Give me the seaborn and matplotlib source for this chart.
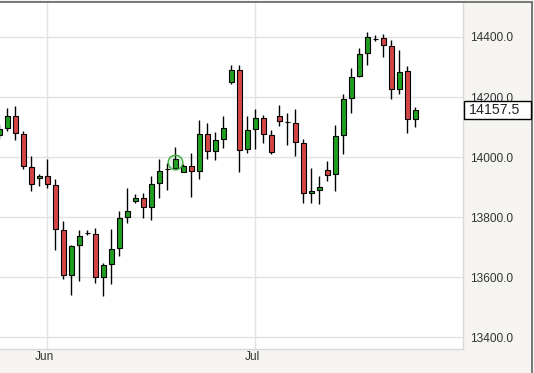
import numpy as np
import pandas as pd
import matplotlib
matplotlib.use("Agg")
import matplotlib.pyplot as plt
from matplotlib.patches import Rectangle
from matplotlib.lines import Line2D
import seaborn as sns

# Daily candles (one per trading session)
open_ = [14074, 14097, 14137, 14077, 13967, 13930, 13938, 13907, 13758, 13606,
         13706, 13747, 13744, 13602, 13643, 13697, 13800, 13853, 13863, 13833,
         13913, 13960, 13963, 13950, 13971, 13952, 14077, 14019, 14060, 14250,
         14290, 14027, 14093, 14130, 14073, 14137, 14117, 14113, 14047, 13880,
         13889, 13957, 13943, 14073, 14196, 14269, 14347, 14393, 14397, 14370,
         14227, 14288, 14127]
high = [14110, 14163, 14171, 14088, 14004, 13944, 13993, 13927, 13788, 13706,
        13758, 13757, 13763, 13647, 13760, 13819, 13897, 13877, 13882, 13936,
        13993, 13980, 14033, 13977, 14013, 14124, 14113, 14083, 14136, 14308,
        14308, 14136, 14161, 14141, 14089, 14173, 14147, 14161, 14060, 13963,
        13936, 13987, 14108, 14210, 14297, 14363, 14416, 14407, 14411, 14391,
        14358, 14304, 14167]
low = [14060, 14086, 14058, 13960, 13886, 13904, 13897, 13691, 13593, 13540,
       13588, 13740, 13582, 13536, 13579, 13671, 13780, 13846, 13797, 13791,
       13863, 13889, 13960, 13950, 13867, 13927, 13993, 13989, 14031, 14243,
       13951, 14013, 14028, 14047, 14011, 14103, 14040, 14002, 13846, 13847,
       13844, 13920, 13886, 14010, 14147, 14266, 14308, 14387, 14333, 14193,
       14210, 14080, 14100]
close = [14093, 14137, 14080, 13971, 13911, 13938, 13910, 13760, 13606, 13704,
         13738, 13747, 13602, 13641, 13694, 13797, 13821, 13863, 13833, 13910,
         13954, 13960, 13993, 13971, 13952, 14077, 14019, 14057, 14098, 14290,
         14023, 14090, 14130, 14077, 14016, 14120, 14117, 14050, 13880, 13886,
         13902, 13940, 14070, 14194, 14267, 14343, 14400, 14394, 14373, 14227,
         14284, 14128, 14157.5]

month_pos = [6, 32]
month_labels = ["Jun", "Jul"]
y_ticks = [13400, 13600, 13800, 14000, 14200, 14400]
marker_idx = 22
marker_val = 13984
last_price = 14157.5

df = pd.DataFrame({"open": open_, "high": high, "low": low, "close": close})
df["idx"] = np.arange(len(df))
df["up"] = df["close"] >= df["open"]

sns.set_theme(style="white")
plt.rcParams["font.family"] = ["Liberation Sans", "DejaVu Sans"]

panel_bg = "#f5f4f1"
green = "#1f9e1f"
red = "#d44545"
grid_c = "#e2e2e2"

W, H = 534, 373
fig = plt.figure(figsize=(W / 100, H / 100), dpi=100, facecolor=panel_bg)
ax = fig.add_axes([0, 24 / H, 463.3 / W, 346 / H])
ax.set_facecolor("white")

# grid
for v in y_ticks:
    ax.axhline(v, color=grid_c, lw=1, zorder=0)
for p in month_pos:
    ax.axvline(p, color=grid_c, lw=1, zorder=0)

# wicks
ax.vlines(df["idx"], df["low"], df["high"], color="black", lw=1, zorder=2)

# bodies
w = 0.62
for _, r in df.iterrows():
    lo = min(r["open"], r["close"])
    h = abs(r["close"] - r["open"])
    ax.add_patch(Rectangle((r["idx"] - w / 2, lo), w, h,
                           facecolor=green if r["up"] else red,
                           edgecolor="black", lw=0.8, zorder=3))

# event marker
sns.scatterplot(x=[marker_idx], y=[marker_val], ax=ax, s=110,
                facecolor=(0.2, 0.7, 0.2, 0.15), edgecolor="#3aaa3a",
                linewidth=1, zorder=4, legend=False)

ax.set_xlim(0.0875, 58.0)
ax.set_ylim(13361, 14513)

ax.yaxis.tick_right()
ax.set_yticks(y_ticks)
ax.set_yticklabels([f"{v:.1f}" for v in y_ticks])
ax.set_xticks([p - 0.4 for p in month_pos])
ax.set_xticklabels(month_labels)
ax.tick_params(axis="both", length=0, labelsize=8.6, labelcolor="#333333")
ax.tick_params(axis="y", pad=4.8)
ax.tick_params(axis="x", pad=1.5)
ax.set_xlabel("")
ax.set_ylabel("")

for s in ["left", "top"]:
    ax.spines[s].set_visible(False)
for s in ["right", "bottom"]:
    ax.spines[s].set_color("#d8d8d8")
    ax.spines[s].set_linewidth(1)

# last price box (sits over the 14200.0 label, as in the source chart)
fig.canvas.draw()
price_y = ax.transData.transform((0, last_price))[1] / fig.bbox.height
fig.add_artist(Rectangle((463.8 / W, price_y - 9 / H), 67 / W, 18 / H,
                         transform=fig.transFigure, facecolor="white",
                         edgecolor="black", lw=1, zorder=5))
fig.text(468.5 / W, price_y, f"{last_price:.1f}", ha="left", va="center",
         fontsize=10.2, color="#222222", zorder=6)

# outer frame (top and right)
fig.add_artist(Line2D([0, 531.5 / W], [1 - 2 / H, 1 - 2 / H],
                      transform=fig.transFigure, color="#555555", lw=1.1))
fig.add_artist(Line2D([531.5 / W, 531.5 / W], [0, 1 - 2 / H],
                      transform=fig.transFigure, color="#555555", lw=1.1))

fig.savefig("out.png", dpi=100, facecolor=panel_bg)
